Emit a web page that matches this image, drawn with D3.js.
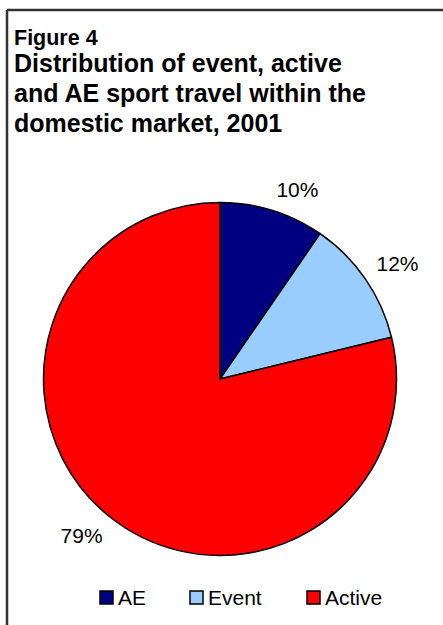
<!DOCTYPE html>
<html>
<head>
<meta charset="utf-8">
<script src="https://cdn.jsdelivr.net/npm/d3@7"></script>
<style>
  body { margin: 0; background: #fff; }
  svg { display: block; font-family: Arial, "Liberation Sans", sans-serif; }
</style>
</head>
<body>
<script>
// chart data
var categories = ["AE", "Event", "Active"];
var shares = [9.6, 11.6, 78.8];
var sliceLabels = ["10%", "12%", "79%"];
var colours = ["#000080", "#99CCFF", "#FF0000"];
var titleLines = ["Distribution of event, active", "and AE sport travel within the", "domestic market, 2001"];

var width = 443, height = 625;

var svg = d3.select("body")
  .append("svg")
  .attr("width", width)
  .attr("height", height);

// frame (top and left edges only visible)
svg.append("line")
  .attr("x1", 7).attr("y1", 10).attr("x2", width).attr("y2", 10)
  .attr("stroke", "#333").attr("stroke-width", 2.5);
svg.append("line")
  .attr("x1", 7).attr("y1", 10).attr("x2", 7).attr("y2", height)
  .attr("stroke", "#333").attr("stroke-width", 2.5);

// titles
svg.append("text")
  .attr("x", 14).attr("y", 45)
  .style("font-size", "21.5px").style("font-weight", "bold")
  .text("Figure 4");

svg.selectAll("text.title")
  .data(titleLines)
  .enter()
  .append("text")
  .attr("class", "title")
  .attr("x", 14)
  .attr("y", function(d, i) { return 72 + i * 30; })
  .style("font-size", "25px").style("font-weight", "bold")
  .text(function(d) { return d; });

// pie
var cx = 220, cy = 379, radius = 176.5;
var data = categories.map(function(c, i) {
  return {name: c, value: shares[i], label: sliceLabels[i], colour: colours[i]};
});

var pie = d3.pie().sort(null).value(function(d) { return d.value; });
var arc = d3.arc().innerRadius(0).outerRadius(radius);
var labelArc = d3.arc().innerRadius(190).outerRadius(190);

var g = svg.append("g").attr("transform", "translate(" + cx + "," + cy + ")");

g.selectAll("path")
  .data(pie(data))
  .enter()
  .append("path")
  .attr("d", arc)
  .attr("fill", function(d) { return d.data.colour; })
  .attr("stroke", "#000")
  .attr("stroke-width", 1.5)
  .attr("stroke-linejoin", "round");

// labels sit outside the slice, nearest corner of the text box on the arc
var labels = g.selectAll("text.pct")
  .data(pie(data))
  .enter()
  .append("text")
  .attr("class", "pct")
  .attr("dy", "0.35em")
  .attr("text-anchor", "middle")
  .style("font-size", "21px")
  .text(function(d) { return d.data.label; });

labels.attr("transform", function(d) {
  var p = labelArc.centroid(d);
  var box = this.getBBox();
  var x = p[0] + (p[0] >= 0 ? 1 : -1) * box.width / 2;
  var y = p[1] + (p[1] >= 0 ? 1 : -1) * 7.5;
  return "translate(" + x + "," + y + ")";
});

// legend
var legendX = [100, 190, 307];
var legend = svg.selectAll("g.legend")
  .data(data)
  .enter()
  .append("g")
  .attr("class", "legend")
  .attr("transform", function(d, i) { return "translate(" + legendX[i] + ",591)"; });

legend.append("rect")
  .attr("width", 13).attr("height", 13)
  .attr("fill", function(d) { return d.colour; })
  .attr("stroke", "#000").attr("stroke-width", 1.5);

legend.append("text")
  .attr("x", 18).attr("y", 13.5)
  .style("font-size", "21px")
  .text(function(d) { return d.name; });
</script>
</body>
</html>
